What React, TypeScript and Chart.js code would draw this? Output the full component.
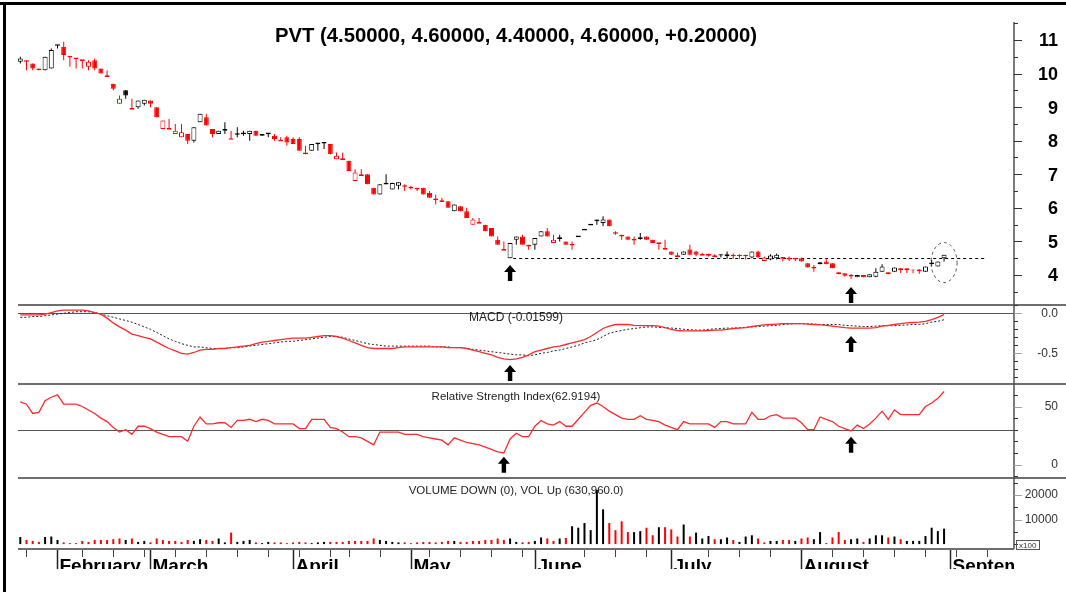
import React, { useEffect, useRef } from 'react';
import { Chart, registerables } from 'chart.js';

Chart.register(...registerables);

const FONT = '"Liberation Sans", Arial, Helvetica, sans-serif';

// ---------------- texts ----------------
const titleText = 'PVT (4.50000, 4.60000, 4.40000, 4.60000, +0.20000)';
const macdText = 'MACD (-0.01599)';
const rsiText = 'Relative Strength Index(62.9194)';
const volumeText = 'VOLUME DOWN (0), VOL Up (630,960.0)';
const volumeUnitText = 'x100';

// ---------------- price data (one entry per trading day) ----------------
const opens = [
  10.35, 10.35, 10.3, 10.15, 10.1, 10.15, 10.85, 10.8, 10.5, 10.45,
  10.4, 10.2, 10.4, 10.15, 9.95, 9.7, 9.1, 9.5, 8.95, 9.0,
  9.1, 9.2, 9.0, 8.35, 8.35, 8.2, 8.1, 8.2, 8.0, 8.55,
  8.7, 8.35, 8.2, 8.32, 8.05, 8.2, 8.22, 8.2, 8.3, 8.15,
  8.22, 8.15, 8.0, 8.1, 8.05, 8.05, 7.6, 7.7, 7.92, 7.94,
  7.9, 7.45, 7.45, 7.4, 6.8, 6.95, 7.0, 6.6, 6.4, 6.72,
  6.55, 6.66, 6.65, 6.6, 6.6, 6.6, 6.45, 6.25, 6.2, 6.2,
  5.9, 6.05, 5.9, 5.5, 5.55, 5.5, 5.4, 5.05, 4.75, 4.5,
  5.05, 5.15, 4.9, 4.9, 5.15, 5.3, 4.95, 5.1, 5.0, 4.9,
  5.15, 5.35, 5.5, 5.65, 5.55, 5.65, 5.25, 5.2, 5.15, 5.05,
  5.1, 5.15, 5.05, 4.95, 4.78, 4.7, 4.56, 4.6, 4.76, 4.7,
  4.6, 4.6, 4.56, 4.62, 4.56, 4.58, 4.58, 4.58, 4.52, 4.7,
  4.42, 4.46, 4.5, 4.52, 4.49, 4.49, 4.5, 4.35, 4.22, 4.32,
  4.4, 4.35, 4.08, 4.05, 3.98, 3.93, 4.0, 3.93, 3.95, 4.1,
  4.08, 4.1, 4.2, 4.2, 4.16, 4.14, 4.1, 4.35, 4.25, 4.5,
];
const highs = [
  10.5, 10.4, 10.3, 10.15, 10.5, 10.75, 10.85, 10.95, 10.5, 10.45,
  10.4, 10.4, 10.45, 10.15, 10.1, 9.7, 9.35, 9.5, 9.25, 9.2,
  9.22, 9.2, 9.0, 8.6, 8.65, 8.5, 8.5, 8.2, 8.4, 8.8,
  8.8, 8.35, 8.3, 8.55, 8.3, 8.4, 8.3, 8.3, 8.3, 8.2,
  8.22, 8.2, 8.1, 8.15, 8.1, 8.1, 7.85, 7.9, 7.92, 7.94,
  7.9, 7.65, 7.65, 7.4, 7.15, 7.15, 7.0, 6.6, 6.7, 7.0,
  6.75, 6.76, 6.7, 6.65, 6.6, 6.6, 6.5, 6.4, 6.3, 6.2,
  6.1, 6.05, 6.0, 5.7, 5.7, 5.5, 5.4, 5.15, 5.0, 4.95,
  5.15, 5.2, 4.9, 5.1, 5.3, 5.4, 5.2, 5.2, 5.0, 5.0,
  5.15, 5.35, 5.5, 5.65, 5.75, 5.65, 5.3, 5.2, 5.15, 5.15,
  5.25, 5.15, 5.05, 4.95, 5.05, 4.7, 4.66, 4.7, 4.9, 4.72,
  4.66, 4.63, 4.62, 4.62, 4.7, 4.64, 4.62, 4.6, 4.7, 4.72,
  4.55, 4.62, 4.64, 4.52, 4.55, 4.49, 4.52, 4.35, 4.3, 4.38,
  4.5, 4.35, 4.08, 4.05, 4.03, 4.0, 4.0, 4.02, 4.2, 4.32,
  4.08, 4.22, 4.2, 4.2, 4.16, 4.18, 4.25, 4.45, 4.4, 4.6,
];
const lows = [
  10.3, 10.1, 10.1, 10.1, 10.1, 10.15, 10.75, 10.4, 10.2, 10.15,
  10.15, 10.1, 10.1, 10.0, 9.9, 9.5, 9.1, 9.25, 8.95, 8.95,
  9.05, 9.0, 8.7, 8.35, 8.35, 8.2, 8.1, 7.9, 7.95, 8.55,
  8.45, 8.1, 8.2, 8.2, 8.05, 8.1, 8.15, 8.0, 8.15, 8.15,
  8.1, 8.0, 8.0, 7.85, 7.9, 7.7, 7.6, 7.7, 7.7, 7.75,
  7.6, 7.45, 7.45, 7.1, 6.8, 6.95, 6.7, 6.4, 6.4, 6.72,
  6.55, 6.55, 6.5, 6.55, 6.5, 6.4, 6.3, 6.1, 6.2, 6.0,
  5.9, 5.9, 5.7, 5.5, 5.55, 5.3, 5.15, 4.9, 4.75, 4.5,
  4.9, 4.9, 4.75, 4.75, 5.15, 5.15, 4.95, 5.0, 4.9, 4.75,
  5.15, 5.35, 5.5, 5.5, 5.45, 5.45, 5.2, 5.05, 5.05, 4.9,
  5.05, 5.05, 4.95, 4.75, 4.78, 4.6, 4.56, 4.6, 4.6, 4.56,
  4.6, 4.55, 4.56, 4.52, 4.48, 4.48, 4.48, 4.46, 4.5, 4.5,
  4.42, 4.44, 4.46, 4.4, 4.42, 4.42, 4.4, 4.22, 4.1, 4.32,
  4.32, 4.2, 4.02, 3.95, 3.88, 3.93, 3.93, 3.93, 3.93, 4.1,
  4.02, 4.1, 4.06, 4.06, 4.05, 4.04, 4.1, 4.25, 4.25, 4.4,
];
const closes = [
  10.45, 10.4, 10.15, 10.1, 10.5, 10.7, 10.85, 10.55, 10.5, 10.45,
  10.4, 10.35, 10.15, 10.0, 9.9, 9.55, 9.25, 9.35, 8.95, 9.2,
  9.22, 9.1, 8.7, 8.6, 8.35, 8.3, 8.25, 8.0, 8.4, 8.8,
  8.45, 8.2, 8.3, 8.32, 8.05, 8.2, 8.22, 8.3, 8.15, 8.2,
  8.22, 8.05, 8.0, 7.95, 7.9, 7.7, 7.65, 7.9, 7.92, 7.94,
  7.6, 7.55, 7.45, 7.1, 7.05, 7.0, 6.7, 6.4, 6.7, 6.72,
  6.74, 6.76, 6.65, 6.6, 6.55, 6.4, 6.3, 6.25, 6.2, 6.0,
  6.1, 5.9, 5.7, 5.65, 5.55, 5.3, 5.15, 4.9, 4.75, 4.95,
  5.15, 4.9, 4.85, 5.1, 5.3, 5.15, 5.05, 5.1, 4.9, 4.9,
  5.15, 5.35, 5.5, 5.6, 5.65, 5.45, 5.25, 5.15, 5.05, 5.05,
  5.1, 5.05, 4.95, 4.95, 4.78, 4.6, 4.56, 4.7, 4.6, 4.6,
  4.6, 4.6, 4.56, 4.58, 4.62, 4.58, 4.58, 4.58, 4.7, 4.53,
  4.52, 4.58, 4.6, 4.5, 4.49, 4.49, 4.4, 4.22, 4.22, 4.38,
  4.32, 4.2, 4.02, 3.98, 3.98, 4.0, 3.93, 4.02, 4.1, 4.25,
  4.02, 4.22, 4.14, 4.14, 4.14, 4.14, 4.25, 4.35, 4.4, 4.6,
];
// volume in units of 100 shares
const volumes = [
  2900, 1700, 1300, 900, 2900, 3100, 1700, 700, 400, 400,
  1300, 900, 1700, 1700, 1700, 2000, 2300, 1700, 2300, 900,
  1300, 700, 2300, 1700, 1300, 1300, 900, 1700, 1300, 2000,
  1700, 1300, 2300, 700, 4700, 900, 1300, 1700, 700, 400,
  900, 700, 700, 400, 700, 900, 700, 400, 700, 900,
  900, 900, 900, 1300, 1300, 1300, 1300, 2300, 1700, 1300,
  900, 700, 700, 400, 700, 900, 900, 700, 900, 1300,
  1300, 900, 900, 1300, 1300, 1700, 1700, 2300, 1700, 2300,
  900, 700, 900, 1300, 2700, 2300, 1300, 2300, 2500, 7300,
  6700, 8600, 5700, 22200, 14200, 8600, 5700, 9300, 4900, 4900,
  5300, 6700, 3600, 6900, 6900, 6000, 3100, 8000, 3100, 4700,
  2300, 3300, 2000, 2000, 2700, 1700, 900, 3100, 3600, 2300,
  700, 1300, 1300, 1700, 1700, 1300, 2300, 2700, 2000, 4900,
  400, 2700, 4900, 1700, 2000, 2300, 900, 2300, 3600, 3600,
  2700, 3100, 2000, 1300, 1300, 1300, 3300, 6700, 5300, 6309.6,
];
const macdLine = [
  -0.02, -0.02, -0.02, -0.02, -0.01, 0.01, 0.03, 0.04, 0.04, 0.04,
  0.04, 0.03, 0.01, -0.01, -0.06, -0.12, -0.17, -0.21, -0.26, -0.28,
  -0.3, -0.32, -0.36, -0.4, -0.44, -0.47, -0.5, -0.51, -0.49, -0.46,
  -0.45, -0.45, -0.44, -0.44, -0.43, -0.42, -0.41, -0.4, -0.38, -0.36,
  -0.35, -0.34, -0.33, -0.32, -0.31, -0.31, -0.31, -0.3, -0.29, -0.28,
  -0.28, -0.29, -0.31, -0.34, -0.37, -0.4, -0.43, -0.44, -0.44, -0.44,
  -0.44, -0.43, -0.42, -0.42, -0.42, -0.42, -0.42, -0.42, -0.42, -0.43,
  -0.43, -0.43, -0.44, -0.46, -0.48, -0.5, -0.52, -0.55, -0.57, -0.58,
  -0.57, -0.55, -0.52, -0.48, -0.46, -0.44, -0.42, -0.41, -0.39, -0.37,
  -0.35, -0.33, -0.29, -0.24, -0.19, -0.16, -0.14, -0.14, -0.14, -0.15,
  -0.155, -0.155, -0.155, -0.16, -0.18, -0.2, -0.215, -0.22, -0.22, -0.22,
  -0.22, -0.215, -0.21, -0.21, -0.2, -0.19, -0.185, -0.18, -0.165, -0.155,
  -0.145, -0.14, -0.135, -0.13, -0.13, -0.13, -0.13, -0.135, -0.14, -0.145,
  -0.15, -0.16, -0.17, -0.18, -0.185, -0.185, -0.185, -0.185, -0.18, -0.16,
  -0.15, -0.14, -0.13, -0.12, -0.115, -0.11, -0.1, -0.08, -0.05, -0.016,
];
const signalLine = [
  -0.05, -0.05, -0.04, -0.04, -0.03, -0.02, -0.01, 0.0, 0.01, 0.02,
  0.02, 0.02, 0.01, -0.01, -0.03, -0.05, -0.07, -0.09, -0.11, -0.14,
  -0.17, -0.2, -0.24, -0.28, -0.32, -0.35, -0.38, -0.4, -0.42, -0.42,
  -0.43, -0.44, -0.44, -0.44, -0.43, -0.43, -0.42, -0.41, -0.4, -0.39,
  -0.38, -0.37, -0.36, -0.35, -0.35, -0.34, -0.33, -0.32, -0.31, -0.3,
  -0.29, -0.29, -0.3, -0.32, -0.34, -0.36, -0.38, -0.39, -0.4, -0.41,
  -0.41, -0.41, -0.41, -0.41, -0.41, -0.41, -0.41, -0.42, -0.42, -0.42,
  -0.43, -0.43, -0.44, -0.45, -0.46, -0.47, -0.48, -0.49, -0.5, -0.51,
  -0.52, -0.52, -0.53, -0.52, -0.5, -0.49, -0.47, -0.46, -0.44, -0.42,
  -0.4, -0.37, -0.35, -0.33, -0.29, -0.25, -0.23, -0.215, -0.2, -0.19,
  -0.18, -0.17, -0.17, -0.175, -0.18, -0.185, -0.19, -0.2, -0.205, -0.21,
  -0.21, -0.2, -0.195, -0.19, -0.185, -0.185, -0.18, -0.175, -0.17, -0.165,
  -0.16, -0.155, -0.15, -0.14, -0.135, -0.13, -0.13, -0.13, -0.135, -0.14,
  -0.14, -0.14, -0.14, -0.15, -0.155, -0.16, -0.165, -0.165, -0.16, -0.155,
  -0.155, -0.155, -0.15, -0.145, -0.14, -0.14, -0.13, -0.11, -0.1, -0.08,
];
const rsiLine = [
  54, 52, 44, 45, 55, 58, 60, 52, 52, 52,
  50, 47, 44, 40, 37, 32, 28, 30, 26, 33,
  33, 31, 28, 26, 24, 24, 24, 20, 33, 41,
  35, 35, 36, 36, 32, 38, 38, 39, 37, 39,
  38, 35, 35, 35, 35, 31, 31, 39, 39, 39,
  32, 31, 28, 24, 24, 23, 20, 17, 28, 28,
  28, 28, 26, 26, 26, 24, 23, 22, 21, 17,
  23, 21, 19, 18, 17, 15, 13, 11, 10, 22,
  27, 24, 24, 33, 38, 35, 34, 37, 33, 33,
  39, 45, 51, 53, 50, 46, 43, 40, 39, 39,
  42, 39, 38, 37, 34, 32, 30, 37, 35, 35,
  35, 35, 32, 37, 37, 35, 35, 35, 45, 39,
  39, 42, 43, 40, 40, 40, 36, 30, 30, 41,
  39, 37, 33, 31, 29, 34, 31, 35, 40, 46,
  39, 47, 43, 43, 43, 43, 50, 53, 57, 62.92,
];

// ---------------- time axis ----------------
const monthNames = ['February', 'March', 'April', 'May', 'June', 'July', 'August', 'September'];
const monthStartIndex = [6, 21, 44, 63, 83, 105, 126, 150];
const weekTickIndex = [1, 10, 15, 20, 25, 30, 35, 40, 45, 50, 53, 58, 66, 71, 76, 81, 91, 96, 101, 111, 116, 121, 131, 136, 141, 146, 151, 156];
const xRange = [-0.37, 160.28];

// ---------------- value axes ----------------
const priceTicks = [11.5, 11, 10.5, 10, 9.5, 9, 8.5, 8, 7.5, 7, 6.5, 6, 5.5, 5, 4.5, 4, 3.5];
const priceLabels = [11, 10, 9, 8, 7, 6, 5, 4];
const priceRange = [3.106, 11.536];
const macdTicks = [0.1, 0, -0.1, -0.2, -0.3, -0.4, -0.5, -0.6, -0.7, -0.8];
const macdLabels = [0, -0.5];
const macdRange = [-0.884, 0.104];
const rsiTicks = [60, 50, 40, 30, 20, 10, 0, -10];
const rsiLabels = [50, 0];
const rsiRange = [-11.6, 69.4];
const rsiLevel = 30;
const volTicks = [25000, 20000, 15000, 10000, 5000, 0];
const volLabels = [20000, 10000];
const volRange = [-2000, 27000];

// ---------------- annotations ----------------
const supportLevel = 4.5;
const supportFromIndex = 79.5;
const supportToIndex = 155.8;
const priceArrows = [[79, 4.3], [134, 3.64]];
const macdArrows = [[79, -0.646], [134, -0.284]];
const rsiArrows = [[78, 6.7], [134, 24]];
const highlight = [149, 4.37];

const RED = '#ff0000';
const BLACK = '#000000';

const isRedCandle = (i: number) => i > 0 && closes[i] <= closes[i - 1];
const isDownVolume = (i: number) => i > 0 && closes[i] < closes[i - 1];
const has = (list: number[], v: number) => list.some((l) => Math.abs(l - v) < 1e-9);

function paneAxis(weight: number, range: number[], ticks: number[], labels: number[], fmt: (v: number) => string, font: any, color: string, labelOffset: number) {
  return {
    type: 'linear',
    position: 'right',
    stack: 'panes',
    stackWeight: weight,
    min: range[0],
    max: range[1],
    afterBuildTicks: (s: any) => {
      s.ticks = ticks.map((v) => ({ value: v }));
    },
    afterFit: (s: any) => {
      s.width = 44;
      s.paddingTop = 0;
      s.paddingBottom = 0;
    },
    grid: { display: false, drawTicks: false, drawOnChartArea: false, tickLength: 0 },
    border: { display: false },
    ticks: {
      autoSkip: false,
      crossAlign: 'far',
      padding: 0,
      labelOffset,
      font,
      color,
      callback: (v: any) => (has(labels, Number(v)) ? fmt(Number(v)) : ''),
    },
  };
}

function drawArrow(c: CanvasRenderingContext2D, x: number, yTip: number) {
  c.beginPath();
  c.moveTo(x, yTip);
  c.lineTo(x + 6, yTip + 7);
  c.lineTo(x + 2.2, yTip + 7);
  c.lineTo(x + 2.2, yTip + 16);
  c.lineTo(x - 2.2, yTip + 16);
  c.lineTo(x - 2.2, yTip + 7);
  c.lineTo(x - 6, yTip + 7);
  c.closePath();
  c.fill();
}

const decorPlugin = {
  id: 'decor',
  beforeDraw(chart: any) {
    const c = chart.ctx;
    c.save();
    c.fillStyle = '#ffffff';
    c.fillRect(0, 0, chart.width, chart.height);
    c.restore();
  },
  beforeDatasetsDraw(chart: any) {
    const c: CanvasRenderingContext2D = chart.ctx;
    const { left, right, top, bottom } = chart.chartArea;
    const sx = chart.scales.x, sy = chart.scales.y, sm = chart.scales.macd, sr = chart.scales.rsi, sv = chart.scales.vol;
    const hline = (x1: number, x2: number, y: number) => {
      c.beginPath();
      c.moveTo(x1, y);
      c.lineTo(x2, y);
      c.stroke();
    };
    c.save();
    // reference lines in indicator panes
    c.strokeStyle = '#555555';
    c.lineWidth = 1;
    hline(left, right, Math.round(sm.getPixelForValue(0)) + 0.5);
    hline(left, right, Math.round(sr.getPixelForValue(rsiLevel)) + 0.5);
    // pane separators
    c.strokeStyle = '#6e6e6e';
    c.lineWidth = 2;
    [sy.bottom, sm.bottom, sr.bottom].forEach((y: number) => hline(left, chart.width, Math.round(y)));
    // x axis line
    hline(left, right, Math.round(bottom));
    // right axis line
    c.strokeStyle = '#505050';
    c.lineWidth = 1.5;
    c.beginPath();
    c.moveTo(right, top);
    c.lineTo(right, bottom);
    c.stroke();
    // y tick marks
    const tickSets: any[] = [
      [sy, priceTicks, priceLabels, '#333333', '#333333'],
      [sm, macdTicks, macdLabels, '#a0a0a0', '#333333'],
      [sr, rsiTicks, rsiLabels, '#a0a0a0', '#333333'],
      [sv, volTicks, volLabels, '#a0a0a0', '#333333'],
    ];
    c.lineWidth = 1;
    tickSets.forEach(([s, ticks, labels, majorColor, minorColor]) => {
      ticks.forEach((v: number) => {
        const major = has(labels, v);
        const y = Math.round(s.getPixelForValue(v)) + 0.5;
        c.strokeStyle = major ? majorColor : minorColor;
        hline(right, right + (major ? 8 : 4), y);
      });
    });
    // dashed support level
    c.strokeStyle = '#000000';
    c.lineWidth = 1;
    c.setLineDash([3, 3]);
    hline(sx.getPixelForValue(supportFromIndex), sx.getPixelForValue(supportToIndex), Math.round(sy.getPixelForValue(supportLevel)) + 0.5);
    c.setLineDash([]);
    c.restore();
  },
  afterDraw(chart: any) {
    const c: CanvasRenderingContext2D = chart.ctx;
    const { left, right, bottom } = chart.chartArea;
    const sx = chart.scales.x, sy = chart.scales.y, sm = chart.scales.macd, sr = chart.scales.rsi, sv = chart.scales.vol;
    const mid = (left + right) / 2;
    c.save();
    // title
    c.fillStyle = '#000000';
    c.font = `bold 20.3px ${FONT}`;
    c.textAlign = 'center';
    c.textBaseline = 'alphabetic';
    c.fillText(titleText, mid, 42);
    // pane captions
    c.fillStyle = '#222222';
    c.font = `12px ${FONT}`;
    c.fillText(macdText, mid, sm.top + 16);
    c.font = `11.5px ${FONT}`;
    c.fillText(rsiText, mid, sr.top + 16);
    c.fillText(volumeText, mid, sv.top + 16);
    // x ticks
    c.strokeStyle = '#444444';
    c.lineWidth = 1;
    weekTickIndex.forEach((i) => {
      const x = Math.round(sx.getPixelForValue(i)) + 0.5;
      if (x > right) return;
      c.beginPath();
      c.moveTo(x, bottom + 1);
      c.lineTo(x, bottom + 8);
      c.stroke();
    });
    c.save();
    c.beginPath();
    c.rect(left, bottom, right - left, 569 - bottom);
    c.clip();
    c.strokeStyle = '#222222';
    c.lineWidth = 1.5;
    c.fillStyle = '#000000';
    c.font = `bold 19px ${FONT}`;
    c.textAlign = 'left';
    monthStartIndex.forEach((i, k) => {
      const x = Math.round(sx.getPixelForValue(i)) + 0.5;
      c.beginPath();
      c.moveTo(x, bottom + 1);
      c.lineTo(x, bottom + 30);
      c.stroke();
      c.fillText(monthNames[k], x + 2, 572);
    });
    c.restore();
    // arrows
    c.fillStyle = '#000000';
    priceArrows.forEach(([i, v]) => drawArrow(c, sx.getPixelForValue(i), sy.getPixelForValue(v)));
    macdArrows.forEach(([i, v]) => drawArrow(c, sx.getPixelForValue(i), sm.getPixelForValue(v)));
    rsiArrows.forEach(([i, v]) => drawArrow(c, sx.getPixelForValue(i), sr.getPixelForValue(v)));
    // highlight ellipse around the last bar
    c.strokeStyle = '#555555';
    c.lineWidth = 1;
    c.setLineDash([3, 3]);
    c.beginPath();
    c.ellipse(sx.getPixelForValue(highlight[0]), sy.getPixelForValue(highlight[1]), 13, 20, 0, 0, Math.PI * 2);
    c.stroke();
    c.setLineDash([]);
    // volume unit box
    c.strokeStyle = '#555555';
    c.strokeRect(right + 2.5, bottom - 8.5, 23, 9);
    c.fillStyle = '#333333';
    c.font = `8px ${FONT}`;
    c.textAlign = 'left';
    c.fillText(volumeUnitText, right + 5, bottom - 1.5);
    // outer frame
    c.fillStyle = '#000000';
    c.fillRect(0, 2, chart.width, 3);
    c.fillRect(3, 2, 3, chart.height - 2);
    c.restore();
  },
};

export default function App() {
  const ref = useRef<HTMLCanvasElement>(null);

  useEffect(() => {
    const canvas = ref.current;
    if (!canvas) return;
    const idx = closes.map((_, i) => i);
    const candleColor = idx.map((i) => (isRedCandle(i) ? RED : BLACK));
    const bodyFill = idx.map((i) => (closes[i] > opens[i] + 1e-9 ? '#ffffff' : candleColor[i]));
    const bodyData = idx.map((i) => {
      let lo = Math.min(opens[i], closes[i]);
      let hi = Math.max(opens[i], closes[i]);
      if (hi - lo < 0.02) {
        const m = (hi + lo) / 2;
        lo = m - 0.025;
        hi = m + 0.025;
      }
      return { x: i, y: [lo, hi] };
    });
    const wickData = idx.map((i) => ({ x: i, y: [lows[i], highs[i]] }));

    const chart = new Chart(canvas, {
      type: 'bar',
      data: {
        datasets: [
          {
            type: 'bar',
            label: 'body',
            data: bodyData,
            yAxisID: 'y',
            backgroundColor: bodyFill,
            borderColor: candleColor,
            borderWidth: 1,
            borderSkipped: false,
            barThickness: 5,
            grouped: false,
            inflateAmount: 0,
          },
          {
            type: 'bar',
            label: 'wick',
            data: wickData,
            yAxisID: 'y',
            backgroundColor: candleColor,
            borderWidth: 0,
            barThickness: 1,
            grouped: false,
            inflateAmount: 0,
          },
          {
            type: 'bar',
            label: 'VOLUME DOWN',
            data: idx.map((i) => ({ x: i, y: isDownVolume(i) ? volumes[i] : null })),
            yAxisID: 'vol',
            backgroundColor: RED,
            borderWidth: 0,
            barThickness: 2,
            grouped: false,
            inflateAmount: 0,
          },
          {
            type: 'bar',
            label: 'VOL Up',
            data: idx.map((i) => ({ x: i, y: isDownVolume(i) ? null : volumes[i] })),
            yAxisID: 'vol',
            backgroundColor: BLACK,
            borderWidth: 0,
            barThickness: 2,
            grouped: false,
            inflateAmount: 0,
          },
          {
            type: 'line',
            label: 'MACD',
            data: idx.map((i) => ({ x: i, y: macdLine[i] })),
            yAxisID: 'macd',
            borderColor: '#ff2a2a',
            borderWidth: 1.3,
            pointRadius: 0,
            tension: 0,
          },
          {
            type: 'line',
            label: 'Signal',
            data: idx.map((i) => ({ x: i, y: signalLine[i] })),
            yAxisID: 'macd',
            borderColor: '#222222',
            borderWidth: 1,
            borderDash: [2, 2],
            pointRadius: 0,
            tension: 0,
          },
          {
            type: 'line',
            label: 'RSI',
            data: idx.map((i) => ({ x: i, y: rsiLine[i] })),
            yAxisID: 'rsi',
            borderColor: '#ff2a2a',
            borderWidth: 1.3,
            pointRadius: 0,
            tension: 0,
          },
        ],
      } as any,
      options: {
        responsive: false,
        animation: false,
        devicePixelRatio: 1,
        events: [],
        layout: { autoPadding: false, padding: { left: 18, right: 8, top: 22, bottom: 43 } },
        plugins: { legend: { display: false }, tooltip: { enabled: false } },
        scales: {
          x: { type: 'linear', min: xRange[0], max: xRange[1], display: false, offset: false },
          y: paneAxis(283, priceRange, priceTicks, priceLabels, (v) => String(v), { family: FONT, size: 18, weight: 'bold' }, '#000000', 1.5),
          macd: paneAxis(79, macdRange, macdTicks, macdLabels, (v) => v.toFixed(1), { family: FONT, size: 12 }, '#333333', 0),
          rsi: paneAxis(94, rsiRange, rsiTicks, rsiLabels, (v) => String(v), { family: FONT, size: 12 }, '#333333', 0),
          vol: paneAxis(71, volRange, volTicks, volLabels, (v) => String(v), { family: FONT, size: 12 }, '#333333', 0),
        } as any,
      } as any,
      plugins: [decorPlugin],
    });
    return () => chart.destroy();
  }, []);

  return (
    <div style={{ position: 'fixed', left: 0, top: 0, width: 1066, height: 592, background: '#ffffff' }}>
      <canvas ref={ref} width={1066} height={592} style={{ display: 'block', width: 1066, height: 592 }} />
    </div>
  );
}
